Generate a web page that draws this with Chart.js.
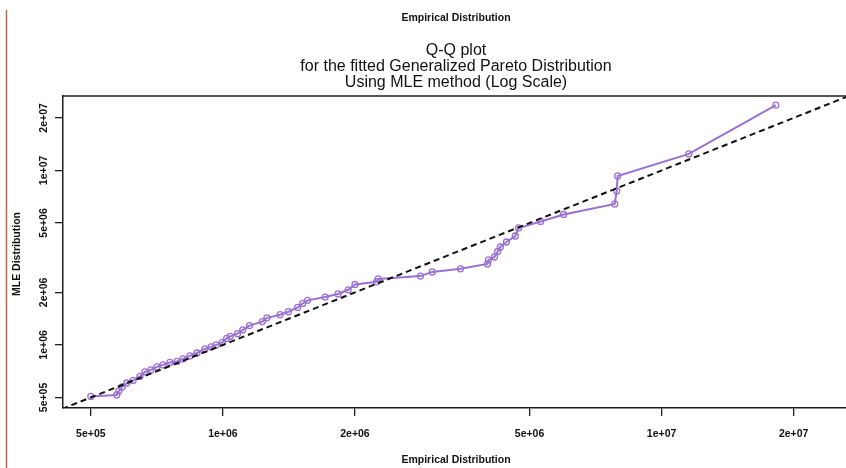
<!DOCTYPE html>
<html>
<head>
<meta charset="utf-8">
<script src="https://cdn.jsdelivr.net/npm/chart.js@4"></script>
<style>
  html, body { margin: 0; padding: 0; background: #fff; overflow: hidden; }
  #wrap { width: 846px; height: 468px; position: relative; overflow: hidden; }
  #qq { position: absolute; left: 0; top: 0; }
</style>
</head>
<body>
<div id="wrap"><canvas id="qq" width="854" height="468"></canvas></div>
<script>
/* Q-Q plot, GPD fitted by MLE, log scale */

// empirical quantiles (x) and fitted MLE quantiles (y)
const empirical = [
  5.00e5, 5.73e5, 5.79e5, 5.89e5, 6.04e5, 6.24e5, 6.47e5, 6.64e5, 6.85e5, 7.07e5,
  7.30e5, 7.57e5, 7.86e5, 8.11e5, 8.41e5, 8.73e5, 9.10e5, 9.40e5, 9.65e5, 9.96e5,
  1.02e6, 1.04e6, 1.08e6, 1.11e6, 1.15e6, 1.23e6, 1.26e6, 1.35e6, 1.41e6, 1.48e6,
  1.52e6, 1.56e6, 1.71e6, 1.83e6, 1.93e6, 2.00e6, 2.24e6, 2.26e6, 2.82e6, 3.00e6,
  3.48e6, 4.01e6, 4.03e6, 4.16e6, 4.23e6, 4.29e6, 4.43e6, 4.64e6, 4.72e6, 5.30e6,
  5.98e6, 7.82e6, 7.90e6, 7.94e6, 1.154e7, 1.822e7
];
const mle = [
  5.07e5, 5.17e5, 5.45e5, 5.74e5, 6.05e5, 6.26e5, 6.60e5, 7.00e5, 7.19e5, 7.48e5,
  7.68e5, 7.94e5, 8.04e5, 8.31e5, 8.65e5, 8.99e5, 9.48e5, 9.74e5, 1.00e6, 1.03e6,
  1.09e6, 1.12e6, 1.16e6, 1.22e6, 1.29e6, 1.36e6, 1.43e6, 1.49e6, 1.55e6, 1.64e6,
  1.73e6, 1.80e6, 1.88e6, 1.96e6, 2.07e6, 2.22e6, 2.30e6, 2.39e6, 2.48e6, 2.62e6,
  2.73e6, 2.91e6, 3.07e6, 3.19e6, 3.43e6, 3.64e6, 3.89e6, 4.21e6, 4.68e6, 5.10e6,
  5.59e6, 6.43e6, 7.63e6, 9.30e6, 1.243e7, 2.37e7
];

const tickValues = [5e5, 1e6, 2e6, 5e6, 1e7, 2e7];
const tickLabels = ['5e+05', '1e+06', '2e+06', '5e+06', '1e+07', '2e+07'];
const refLine = [4.3e5, 2.7e7];   // y = x reference

const X_RANGE = [4.32e5, 2.67e7];
const Y_RANGE = [4.35e5, 2.67e7];

const PURPLE = '#9a70d2';
const AXIS = '#1e1e1e';
const LABEL_FONT = "bold 10.5px 'Liberation Sans', Arial, sans-serif";
const TITLE_FONT = "16px 'Liberation Sans', Arial, sans-serif";

const labelFor = v => {
  const i = tickValues.indexOf(v);
  return i >= 0 ? tickLabels[i] : '';
};

// texts, box and y tick labels drawn like R does
const rDecor = {
  id: 'rDecor',
  afterDraw(chart) {
    const { ctx, chartArea: a } = chart;
    const ys = chart.scales.y;
    ctx.save();

    // page edge line on the left
    ctx.strokeStyle = '#a4725f';
    ctx.lineWidth = 1.5;
    ctx.beginPath();
    ctx.moveTo(6.5, 10);
    ctx.lineTo(6.5, 468);
    ctx.stroke();

    // box top/right
    ctx.strokeStyle = AXIS;
    ctx.lineWidth = 1.5;
    ctx.beginPath();
    ctx.moveTo(a.left, a.top);
    ctx.lineTo(a.right, a.top);
    ctx.lineTo(a.right, a.bottom);
    ctx.stroke();

    ctx.fillStyle = '#111';
    ctx.textAlign = 'center';
    ctx.textBaseline = 'middle';

    const cx = 456;
    ctx.font = LABEL_FONT;
    ctx.fillText('Empirical Distribution', cx, 18);
    ctx.fillText('Empirical Distribution', cx, 460);

    ctx.font = TITLE_FONT;
    ctx.fillText('Q-Q plot', cx, 51);
    ctx.fillText('for the fitted Generalized Pareto Distribution', cx, 67);
    ctx.fillText('Using MLE method (Log Scale)', cx, 83);

    // y label + rotated tick labels
    ctx.font = LABEL_FONT;
    ctx.save();
    ctx.translate(17, 254);
    ctx.rotate(-Math.PI / 2);
    ctx.fillText('MLE Distribution', 0, 0);
    ctx.restore();

    tickValues.forEach((v, i) => {
      const py = ys.getPixelForValue(v);
      ctx.save();
      ctx.translate(44, py);
      ctx.rotate(-Math.PI / 2);
      ctx.fillText(tickLabels[i], 0, 0);
      ctx.restore();
    });

    ctx.restore();
  }
};

const ctx = document.getElementById('qq').getContext('2d');
new Chart(ctx, {
  type: 'scatter',
  data: {
    datasets: [
      {
        label: 'y = x',
        data: refLine.map(v => ({ x: v, y: v })),
        showLine: true,
        borderColor: '#111',
        borderWidth: 2,
        borderDash: [6, 4],
        pointRadius: 0,
      },
      {
        label: 'MLE',
        data: empirical.map((v, i) => ({ x: v, y: mle[i] })),
        showLine: true,
        borderColor: PURPLE,
        borderWidth: 2,
        pointRadius: 3,
        pointBorderWidth: 1.3,
        pointBorderColor: PURPLE,
        pointBackgroundColor: 'rgba(255,255,255,0)',
      }
    ]
  },
  options: {
    responsive: false,
    animation: false,
    events: [],
    layout: { padding: { top: 96, right: 1, left: 0, bottom: 0 } },
    plugins: {
      legend: { display: false },
      tooltip: { enabled: false },
      title: { display: false },
    },
    scales: {
      x: {
        type: 'logarithmic',
        min: X_RANGE[0],
        max: X_RANGE[1],
        afterBuildTicks: s => { s.ticks = tickValues.map(v => ({ value: v })); },
        afterFit: s => { s.height = 60; s.paddingLeft = 0; s.paddingRight = 0; },
        grid: { drawOnChartArea: false, drawTicks: true, tickLength: 8, color: AXIS, lineWidth: 1.3 },
        border: { display: true, color: AXIS, width: 1.5 },
        ticks: {
          autoSkip: false,
          maxRotation: 0,
          padding: 12,
          color: '#111',
          font: { family: "'Liberation Sans', Arial, sans-serif", size: 10.5, weight: 'bold' },
          callback: v => labelFor(v),
        }
      },
      y: {
        type: 'logarithmic',
        min: Y_RANGE[0],
        max: Y_RANGE[1],
        afterBuildTicks: s => { s.ticks = tickValues.map(v => ({ value: v })); },
        afterFit: s => { s.width = 63; s.paddingTop = 0; s.paddingBottom = 0; },
        grid: { drawOnChartArea: false, drawTicks: true, tickLength: 8, color: AXIS, lineWidth: 1.3 },
        border: { display: true, color: AXIS, width: 1.5 },
        ticks: { display: false }
      }
    }
  },
  plugins: [rDecor]
});
</script>
</body>
</html>
